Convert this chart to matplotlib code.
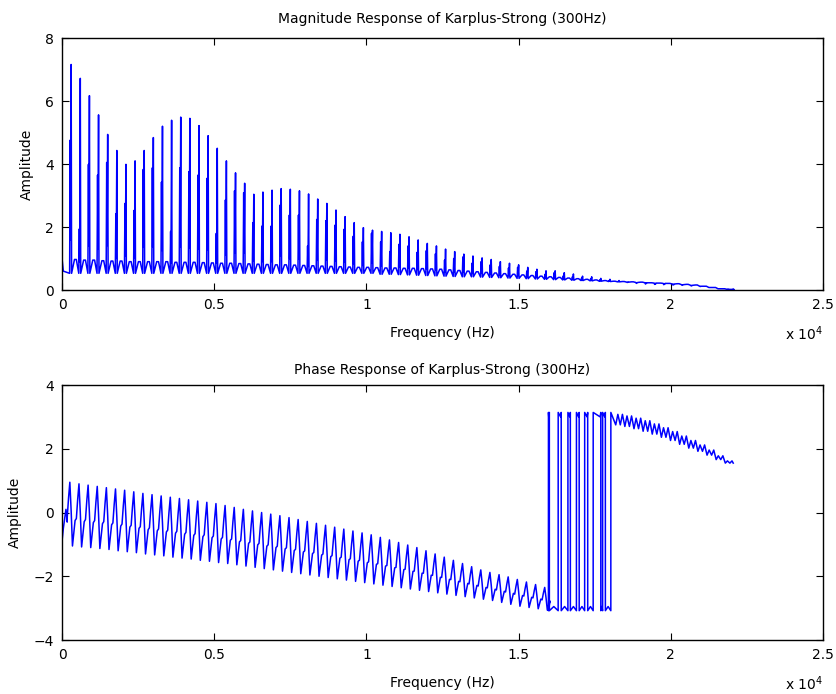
import numpy as np
import matplotlib.pyplot as plt

# Karplus-Strong string, fundamental 300 Hz, fs = 44.1 kHz
f0 = 300
f_end = 22050
harmonic = list(range(1, 74))

# magnitude: tall spike, side spike, valley and small bump per harmonic
mag_peak = [7.16, 6.72, 6.17, 5.56, 4.94, 4.43, 3.99, 4.10, 4.43, 4.84,
            5.20, 5.39, 5.49, 5.45, 5.22, 4.90, 4.50, 4.10, 3.72, 3.39,
            3.04, 3.11, 3.17, 3.22, 3.20, 3.15, 3.05, 2.89, 2.75, 2.54,
            2.33, 2.14, 1.98, 1.90, 1.86, 1.82, 1.77, 1.69, 1.59, 1.48,
            1.40, 1.30, 1.22, 1.14, 1.08, 1.02, 0.97, 0.90, 0.85, 0.80,
            0.72, 0.66, 0.61, 0.61, 0.55, 0.51, 0.44, 0.42, 0.37, 0.34,
            0.30, 0.26, 0.23, 0.21, 0.19, 0.18, 0.17, 0.16, 0.14, 0.12,
            0.08, 0.04, 0.03]
mag_side = [4.76, 1.94, 3.99, 3.65, 4.05, 2.42, 2.75, 2.53, 3.83, 3.88,
            3.43, 1.86, 3.88, 3.76, 3.65, 3.55, 1.80, 2.86, 3.15, 3.09,
            2.14, 2.03, 2.03, 2.70, 2.38, 2.38, 1.40, 2.24, 2.20, 2.06,
            1.93, 1.71, 1.53, 1.80, 1.53, 1.22, 1.45, 1.40, 1.20, 1.25,
            1.15, 0.95, 1.00, 1.05, 0.85, 0.90, 0.80, 0.75, 0.70, 0.72,
            0.60, 0.58, 0.50, 0.55, 0.45, 0.42, 0.38, 0.36, 0.32, 0.30,
            0.27, 0.24, 0.21, 0.19, 0.18, 0.17, 0.16, 0.15, 0.13, 0.11,
            0.08, 0.04, 0.03]
mag_valley = [0.53] * 34 + [0.50, 0.50, 0.49, 0.48, 0.47, 0.46, 0.45, 0.44,
                            0.43, 0.42, 0.42, 0.41, 0.40, 0.39, 0.38, 0.37,
                            0.36, 0.35, 0.34, 0.33, 0.32, 0.31, 0.30, 0.29,
                            0.28, 0.27, 0.26, 0.25, 0.24, 0.23, 0.22, 0.21,
                            0.19, 0.17, 0.15, 0.12, 0.08, 0.04, 0.02]
mag_bump = [0.97, 0.95, 0.95, 0.93, 0.92, 0.92, 0.90, 0.90, 0.90, 0.90,
            0.90, 0.88, 0.88, 0.88, 0.87, 0.86, 0.85, 0.85, 0.84, 0.83,
            0.82, 0.81, 0.80, 0.80, 0.79, 0.78, 0.77, 0.76, 0.75, 0.74,
            0.73, 0.72, 0.72, 0.71, 0.70, 0.70, 0.69, 0.69, 0.68, 0.67,
            0.66, 0.64, 0.62, 0.60, 0.58, 0.56, 0.54, 0.52, 0.50, 0.48,
            0.46, 0.44, 0.42, 0.40, 0.38, 0.36, 0.34, 0.32, 0.30, 0.28,
            0.27, 0.26, 0.25, 0.23, 0.22, 0.21, 0.20, 0.18, 0.16, 0.12,
            0.08, 0.04, 0.02]

# phase: swing top / bottom per harmonic (before the wrap region)
phase_hi = [0.95, 0.90, 0.86, 0.82, 0.78, 0.74, 0.70, 0.65, 0.60, 0.56,
            0.52, 0.48, 0.44, 0.40, 0.36, 0.32, 0.28, 0.22, 0.16, 0.10,
            0.05, 0.00, -0.05, -0.10, -0.16, -0.22, -0.28, -0.34, -0.40, -0.46,
            -0.52, -0.58, -0.64, -0.70, -0.78, -0.86, -0.94, -1.02, -1.10, -1.20,
            -1.30, -1.40, -1.50, -1.60, -1.70, -1.80, -1.88, -1.95, -2.02, -2.10,
            -2.18, -2.26, -2.35]
phase_lo = [-1.05, -1.08, -1.10, -1.13, -1.16, -1.20, -1.23, -1.26, -1.30, -1.33,
            -1.36, -1.40, -1.43, -1.46, -1.50, -1.53, -1.57, -1.60, -1.64, -1.68,
            -1.72, -1.76, -1.80, -1.84, -1.88, -1.92, -1.96, -2.00, -2.04, -2.08,
            -2.12, -2.16, -2.20, -2.24, -2.28, -2.32, -2.36, -2.40, -2.44, -2.48,
            -2.52, -2.56, -2.60, -2.64, -2.68, -2.72, -2.76, -2.82, -2.88, -2.94,
            -2.98, -3.02, -3.06]
# wrap region: jumps between -pi and +pi
wrap_up = [15980, 16300, 16620, 16900, 17170, 17450, 17760, 18030]
wrap_down = [16010, 16400, 16700, 16990, 17270, 17700, 17850]
# after the wrap: top / bottom per harmonic 61..73
phase_hi2 = [3.08, 3.03, 2.96, 2.88, 2.78, 2.66, 2.54, 2.40, 2.26, 2.12,
             1.96, 1.78, 1.62]
phase_lo2 = [2.75, 2.70, 2.63, 2.55, 2.46, 2.36, 2.26, 2.14, 2.02, 1.92,
             1.80, 1.66, 1.55]

# sample offsets inside one 300 Hz period
mag_offsets = [-50, -32, -20, 0, 14, 110, 170]
phase_offsets = [-129, -86, -43, 0, 43, 86, 129]
phase_shape = [0.45, 0.75, 1.0, 0.55, 0.0, 0.2, 0.4]


def magnitude_trace():
    f = [0, 43]
    a = [1.0, 0.6]
    for k, pk, sd, vl, bp in zip(harmonic, mag_peak, mag_side, mag_valley, mag_bump):
        fk = f0 * k
        vals = [vl, sd, vl + 0.25 * (sd - vl), pk, vl, bp, bp]
        f += [fk + d for d in mag_offsets]
        a += vals
    f.append(f_end)
    a.append(mag_valley[-1])
    return f, a


def phase_trace():
    f = [0, 43, 86, 129, 171]
    p = [-0.9, -0.5, -0.2, 0.1, -0.3]
    for k, hi, lo in zip(harmonic, phase_hi, phase_lo):
        fk = f0 * k
        f += [fk + d for d in phase_offsets]
        p += [lo + s * (hi - lo) for s in phase_shape]
    # wrap region
    top, bot = 3.14, -3.08
    for i, fu in enumerate(wrap_up):
        f += [fu - 1, fu]
        p += [bot, top]
        if i < len(wrap_down):
            f += [wrap_down[i] - 20, wrap_down[i] - 1, wrap_down[i]]
            p += [3.0, top, bot]
            nxt = wrap_up[i + 1]
            f += [0.5 * (wrap_down[i] + nxt)]
            p += [-2.95]
    for k, hi, lo in zip(harmonic[60:], phase_hi2, phase_lo2):
        fk = f0 * k
        f += [fk - 110, fk - 40, fk + 40, fk + 110]
        p += [lo, hi, lo, hi]
    f.append(f_end)
    p.append(1.55)
    return f, p


fig = plt.figure(figsize=(8.37, 6.94), dpi=100)
ax1 = fig.add_axes([0.0741, 0.5821, 0.9092, 0.3631])
ax2 = fig.add_axes([0.0741, 0.0778, 0.9092, 0.3674])

fm, am = magnitude_trace()
ax1.plot(fm, am, color='blue', linewidth=1.1)
fp, pp = phase_trace()
ax2.plot(fp, pp, color='blue', linewidth=1.1)

for ax, title, ylim, yt, tpad in [
        (ax1, 'Magnitude Response of Karplus-Strong (300Hz)', (0, 8), [0, 2, 4, 6, 8], 11),
        (ax2, 'Phase Response of Karplus-Strong (300Hz)', (-4, 4), [-4, -2, 0, 2, 4], 8)]:
    ax.set_xlim(0, 25000)
    ax.set_ylim(*ylim)
    ax.set_yticks(yt)
    ax.set_xticks([0, 5000, 10000, 15000, 20000, 25000])
    ax.set_xticklabels(['0', '0.5', '1', '1.5', '2', '2.5'])
    ax.tick_params(direction='in', top=True, right=True, length=5, labelsize=10, pad=6)
    ax.set_title(title, fontsize=10, pad=tpad)
    ax.set_xlabel('Frequency (Hz)', fontsize=10, labelpad=10)
    ax.set_ylabel('Amplitude', fontsize=10, labelpad=8)
    ax.text(1.0, -0.135, r'x 10$^4$', transform=ax.transAxes, ha='right',
            va='top', fontsize=10)
    for s in ax.spines.values():
        s.set_linewidth(1.0)

fig.savefig('out.png', dpi=100)
